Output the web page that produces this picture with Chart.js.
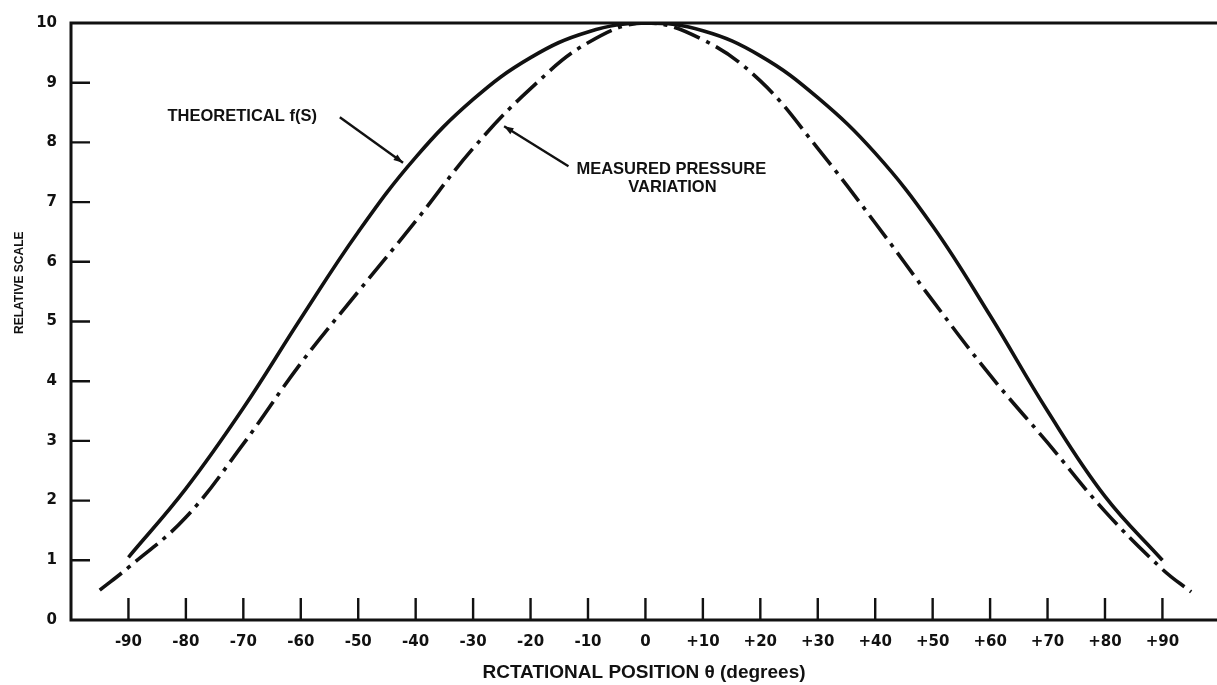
<!DOCTYPE html>
<html>
<head>
<meta charset="utf-8">
<script src="https://cdn.jsdelivr.net/npm/chart.js@4.4.0/dist/chart.umd.min.js"></script>
<style>
html, body { margin: 0; padding: 0; background: #fff; }
#wrap { width: 1217px; height: 685px; }
</style>
</head>
<body>
<div id="wrap"><canvas id="pressureChart"></canvas></div>
<script>
const theoryAngles = [-90, -80, -70, -60, -50, -40, -30, -20, -10, 0, 10, 20, 30, 40, 50, 60, 70, 80, 90];
const theoryValues = [1.05, 2.2, 3.55, 5.05, 6.5, 7.75, 8.72, 9.42, 9.85, 10, 9.87, 9.45, 8.75, 7.82, 6.6, 5.1, 3.5, 2.07, 1.0];
const measuredAngles = [-95, -90, -80, -70, -60, -50, -40, -30, -20, -10, 0, 10, 20, 30, 40, 50, 60, 70, 80, 90, 95];
const measuredValues = [0.5, 0.88, 1.72, 2.95, 4.3, 5.5, 6.68, 7.9, 8.9, 9.67, 10, 9.72, 9.03, 7.9, 6.65, 5.35, 4.1, 2.97, 1.82, 0.85, 0.47];
const yTickValues = [0, 1, 2, 3, 4, 5, 6, 7, 8, 9, 10];

const ink = '#111';
const tickFont = { family: '"DejaVu Sans", sans-serif', size: 15, weight: 'bold' };
const noteFont = 'bold 16.5px "Liberation Sans", Arial, sans-serif';

// frame, inward ticks, y title and the two callouts
const framePlugin = {
    id: 'frame',
    afterDatasetsDraw(chart) {
        const { ctx, chartArea: a, scales: { x, y } } = chart;
        ctx.save();
        ctx.strokeStyle = ink;
        ctx.fillStyle = ink;

        ctx.lineWidth = 3;
        ctx.beginPath();
        ctx.moveTo(a.right, a.top);
        ctx.lineTo(a.left, a.top);
        ctx.lineTo(a.left, a.bottom);
        ctx.lineTo(a.right, a.bottom);
        ctx.stroke();

        ctx.lineWidth = 2.4;
        ctx.beginPath();
        x.ticks.forEach(t => {
            if (t.value % 10 !== 0 || Math.abs(t.value) > 90) return;
            const px = x.getPixelForValue(t.value);
            ctx.moveTo(px, a.bottom);
            ctx.lineTo(px, a.bottom - 22);
        });
        y.ticks.forEach(t => {
            if (t.value <= 0 || t.value >= 10) return;
            const py = y.getPixelForValue(t.value);
            ctx.moveTo(a.left, py);
            ctx.lineTo(a.left + 19, py);
        });
        ctx.stroke();

        // y axis title sits a little above the middle of the axis
        ctx.save();
        ctx.translate(20, y.getPixelForValue(5.65));
        ctx.rotate(-Math.PI / 2);
        ctx.font = 'bold 12px "Liberation Sans", Arial, sans-serif';
        ctx.textAlign = 'center';
        ctx.textBaseline = 'middle';
        ctx.fillText('RELATIVE SCALE', 0, 0);
        ctx.restore();

        const arrow = (x0, y0, x1, y1) => {
            const sx = x.getPixelForValue(x0), sy = y.getPixelForValue(y0);
            const ex = x.getPixelForValue(x1), ey = y.getPixelForValue(y1);
            const ang = Math.atan2(ey - sy, ex - sx);
            ctx.lineWidth = 2.4;
            ctx.beginPath();
            ctx.moveTo(sx, sy);
            ctx.lineTo(ex, ey);
            ctx.stroke();
            ctx.beginPath();
            ctx.moveTo(ex, ey);
            ctx.lineTo(ex - 10 * Math.cos(ang - 0.35), ey - 10 * Math.sin(ang - 0.35));
            ctx.lineTo(ex - 10 * Math.cos(ang + 0.35), ey - 10 * Math.sin(ang + 0.35));
            ctx.closePath();
            ctx.fill();
        };

        ctx.font = noteFont;
        ctx.textBaseline = 'middle';
        ctx.textAlign = 'left';
        ctx.fillText('THEORETICAL f(S)', x.getPixelForValue(-83.2), y.getPixelForValue(8.43));
        arrow(-53.2, 8.42, -42.2, 7.66);

        ctx.textAlign = 'center';
        ctx.fillText('MEASURED PRESSURE', x.getPixelForValue(4.5), y.getPixelForValue(7.55));
        ctx.fillText('VARIATION', x.getPixelForValue(4.7), y.getPixelForValue(7.25));
        arrow(-13.4, 7.6, -24.6, 8.27);

        ctx.restore();
    }
};

new Chart(document.getElementById('pressureChart'), {
    type: 'line',
    data: {
        datasets: [
            {
                label: 'Theoretical f(S)',
                data: theoryAngles.map((a, i) => ({ x: a, y: theoryValues[i] })),
                borderColor: ink,
                borderWidth: 3.6,
                pointRadius: 0,
                tension: 0.4
            },
            {
                label: 'Measured pressure variation',
                data: measuredAngles.map((a, i) => ({ x: a, y: measuredValues[i] })),
                borderColor: ink,
                borderWidth: 3.6,
                borderDash: [28, 7, 4, 7],
                pointRadius: 0,
                tension: 0.4
            }
        ]
    },
    options: {
        responsive: true,
        maintainAspectRatio: false,
        animation: false,
        layout: { padding: { top: 21, left: 0, right: 0, bottom: 0 } },
        plugins: {
            legend: { display: false },
            tooltip: { enabled: false }
        },
        scales: {
            x: {
                type: 'linear',
                min: -100,
                max: 99.5,
                grid: { display: false, drawTicks: false },
                border: { display: false },
                afterFit: s => { s.height = 65; s.paddingLeft = 0; s.paddingRight = 0; },
                ticks: {
                    stepSize: 10,
                    autoSkip: false,
                    maxRotation: 0,
                    padding: 13,
                    color: ink,
                    font: tickFont,
                    callback: v => (v % 10 !== 0 || Math.abs(v) > 90) ? '' : (v > 0 ? '+' + v : String(v))
                },
                title: {
                    display: true,
                    text: 'RCTATIONAL POSITION θ (degrees)',
                    color: ink,
                    font: { family: '"Liberation Sans", Arial, sans-serif', size: 19, weight: 'bold' },
                    padding: { top: 0, bottom: 1 }
                }
            },
            y: {
                min: 0,
                max: 10,
                grid: { display: false, drawTicks: false },
                border: { display: false },
                afterFit: s => { s.width = 71; },
                afterBuildTicks: s => { s.ticks = yTickValues.map(v => ({ value: v })); },
                ticks: {
                    padding: 14,
                    color: ink,
                    font: tickFont
                }
            }
        }
    },
    plugins: [framePlugin]
});
</script>
</body>
</html>
